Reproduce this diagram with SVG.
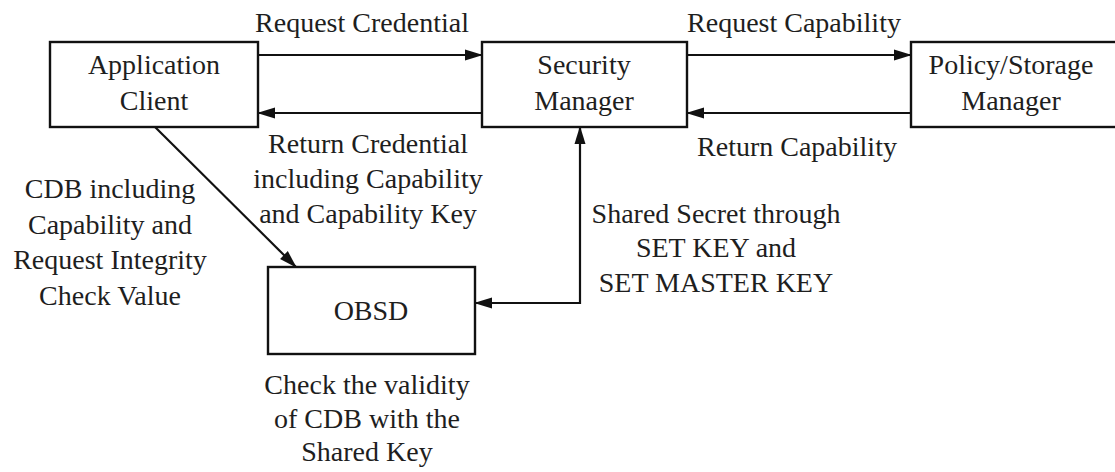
<svg xmlns="http://www.w3.org/2000/svg" width="1115" height="472" viewBox="0 0 1115 472">
  <defs>
    <!-- filled triangular arrowhead shared by every connector -->
    <marker id="arrow" viewBox="0 0 18 12" refX="17" refY="6" markerWidth="18" markerHeight="12" markerUnits="userSpaceOnUse" orient="auto-start-reverse">
      <path d="M0,0.5 L18,6 L0,11.5 Z" fill="#111"/>
    </marker>
    <style>
      .box { fill: #fff; stroke: #111; stroke-width: 2.4; }
      .edge { fill: none; stroke: #111; stroke-width: 2.2; }
      text { font-family: "Liberation Serif", "Times New Roman", serif; font-size: 28px; fill: #1e1e1e; text-anchor: middle; }
    </style>
  </defs>
  <rect width="1115" height="472" fill="#fff"/>

  <g id="connectors">
    <line class="edge" x1="258" y1="55" x2="482" y2="55" marker-end="url(#arrow)"/>
    <line class="edge" x1="482" y1="113" x2="258" y2="113" marker-end="url(#arrow)"/>
    <line class="edge" x1="687" y1="55" x2="911" y2="55" marker-end="url(#arrow)"/>
    <line class="edge" x1="911" y1="113" x2="687" y2="113" marker-end="url(#arrow)"/>
    <line class="edge" x1="155" y1="127" x2="296" y2="267" marker-end="url(#arrow)"/>
    <polyline class="edge" points="475,303 580,303 580,127" marker-start="url(#arrow)" marker-end="url(#arrow)"/>
  </g>

  <g id="application-client">
    <rect class="box" x="50" y="42" width="208" height="85"/>
    <text x="154" y="74">Application</text>
    <text x="154" y="110">Client</text>
  </g>

  <g id="security-manager">
    <rect class="box" x="482" y="42" width="205" height="85"/>
    <text x="584" y="74">Security</text>
    <text x="584" y="110">Manager</text>
  </g>

  <g id="policy-storage-manager">
    <rect class="box" x="911" y="42" width="210" height="85"/>
    <text x="1011" y="74">Policy/Storage</text>
    <text x="1011" y="110">Manager</text>
  </g>

  <g id="obsd">
    <rect class="box" x="268" y="267" width="207" height="87"/>
    <text x="371" y="320">OBSD</text>
  </g>

  <g id="labels">
    <text x="362" y="32">Request Credential</text>
    <text x="794" y="32">Request Capability</text>
    <text x="797" y="156">Return Capability</text>
    <text x="368" y="153">Return Credential</text>
    <text x="368" y="188">including Capability</text>
    <text x="368" y="223">and Capability Key</text>
    <text x="110" y="198">CDB including</text>
    <text x="110" y="234">Capability and</text>
    <text x="110" y="269">Request Integrity</text>
    <text x="110" y="305">Check Value</text>
    <text x="716" y="223">Shared Secret through</text>
    <text x="716" y="257">SET KEY and</text>
    <text x="716" y="292">SET MASTER KEY</text>
    <text x="367" y="394">Check the validity</text>
    <text x="367" y="428">of CDB with the</text>
    <text x="367" y="461">Shared Key</text>
  </g>
</svg>
